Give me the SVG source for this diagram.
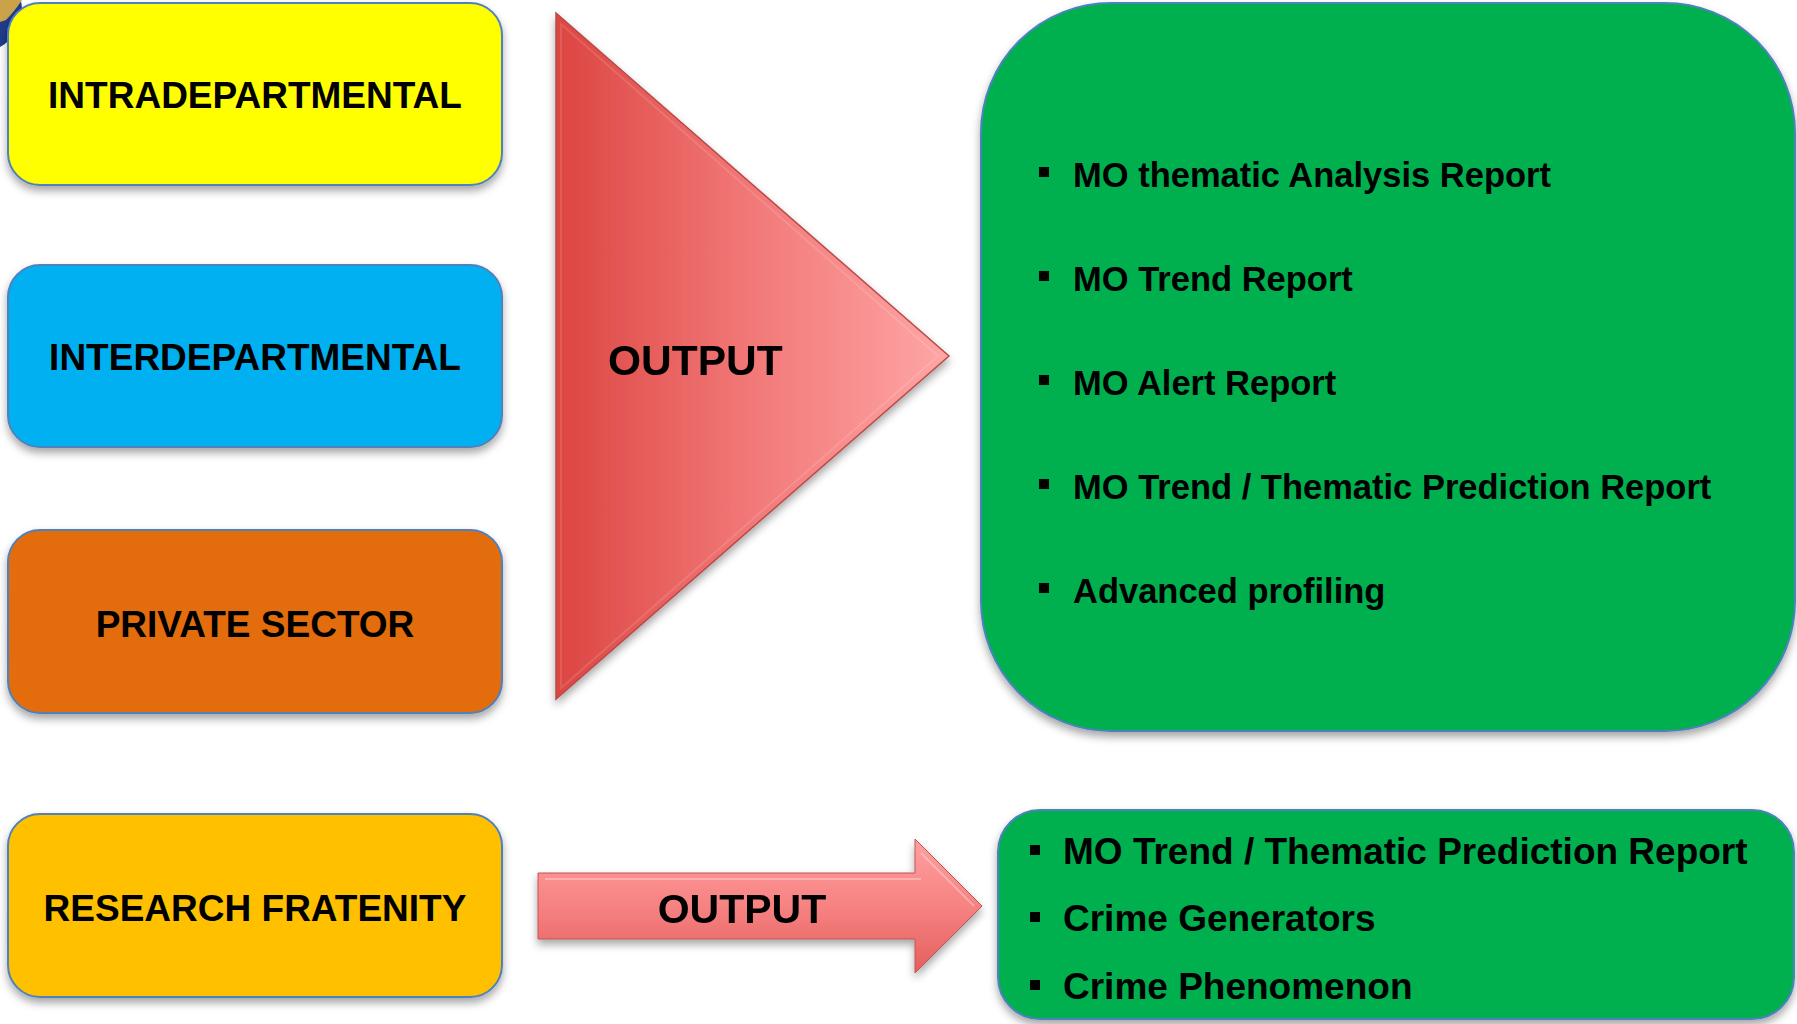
<svg xmlns="http://www.w3.org/2000/svg" width="1797" height="1024" viewBox="0 0 1797 1024">
  <style>
    .box { stroke: #4f81bd; stroke-width: 2; filter: url(#shadow); }
    .lbl { font-family: "Liberation Sans", Arial, sans-serif; font-weight: bold; fill: #000; }
    .ctr { text-anchor: middle; }
    .item { font-family: "Liberation Sans", Arial, sans-serif; font-weight: bold; font-size: 34.5px; fill: #000; }
    .item2 { font-family: "Liberation Sans", Arial, sans-serif; font-weight: bold; font-size: 37px; fill: #000; }
    .bullet { fill: #000; }
  </style>
  <defs>
    <filter id="shadow" x="-10%" y="-10%" width="120%" height="130%">
      <feDropShadow dx="0" dy="5" stdDeviation="4" flood-color="#000" flood-opacity="0.35"/>
    </filter>
    <linearGradient id="triGrad" x1="0" y1="0" x2="1" y2="0">
      <stop offset="0" stop-color="#dc4541"/>
      <stop offset="0.45" stop-color="#f07473"/>
      <stop offset="1" stop-color="#ffa6a6"/>
    </linearGradient>
    <linearGradient id="arrGrad" x1="0" y1="0" x2="0" y2="1">
      <stop offset="0" stop-color="#ffa0a0"/>
      <stop offset="0.5" stop-color="#f78282"/>
      <stop offset="1" stop-color="#e35f5d"/>
    </linearGradient>
  </defs>

  <rect width="1797" height="1024" fill="#ffffff"/>

  <!-- corner picture fragment -->
  <g id="corner-fragment">
    <circle cx="-20" cy="10" r="42" fill="#1f3c8c"/>
    <path d="M0,0 L22,0 Q14,12 6,20 L0,22 Z" fill="#c9a24a"/>
  </g>

  <g id="intradepartmental">
    <rect class="box" x="8" y="3" width="494" height="182" rx="32" ry="32" fill="#ffff00"/>
    <text class="lbl ctr" x="255" y="108" font-size="37">INTRADEPARTMENTAL</text>
  </g>

  <g id="interdepartmental">
    <rect class="box" x="8" y="265" width="494" height="182" rx="32" ry="32" fill="#00b0f0"/>
    <text class="lbl ctr" x="255" y="370" font-size="37">INTERDEPARTMENTAL</text>
  </g>

  <g id="private-sector">
    <rect class="box" x="8" y="530" width="494" height="183" rx="32" ry="32" fill="#e36c0a"/>
    <text class="lbl ctr" x="255" y="637" font-size="37">PRIVATE SECTOR</text>
  </g>

  <g id="research-fratenity">
    <rect class="box" x="8" y="814" width="494" height="183" rx="32" ry="32" fill="#ffc000"/>
    <text class="lbl ctr" x="255" y="921" font-size="37">RESEARCH FRATENITY</text>
  </g>

  <g id="connectors">
    <g id="output-triangle" filter="url(#shadow)">
      <polygon points="556,13 949,356 556,699" fill="url(#triGrad)" stroke="#b94a48" stroke-width="1.5"/>
      <polygon points="561,24 938,356 561,688" fill="none" stroke="#ffffff" stroke-opacity="0.12" stroke-width="2"/>
      <text class="lbl" x="608" y="375" font-size="42.5">OUTPUT</text>
    </g>
    <g id="output-arrow" filter="url(#shadow)">
      <path d="M538,873 L915,873 L915,839 L982,906 L915,973 L915,939 L538,939 Z" fill="url(#arrGrad)" stroke="#c25452" stroke-width="1"/>
      <path d="M545,879 L921,879 M921,853 L974,906" fill="none" stroke="#ffffff" stroke-opacity="0.3" stroke-width="2"/>
      <text class="lbl ctr" x="742" y="923" font-size="41">OUTPUT</text>
    </g>
  </g>

  <g id="outputs-main">
    <rect class="box" x="981" y="3" width="814" height="728" rx="130" ry="130" fill="#00b050"/>
    <rect class="bullet" x="1039" y="167" width="10" height="10"/>
    <text class="item" x="1073" y="187">MO thematic Analysis Report</text>
    <rect class="bullet" x="1039" y="271" width="10" height="10"/>
    <text class="item" x="1073" y="291">MO Trend Report</text>
    <rect class="bullet" x="1039" y="375" width="10" height="10"/>
    <text class="item" x="1073" y="395">MO Alert Report</text>
    <rect class="bullet" x="1039" y="479" width="10" height="10"/>
    <text class="item" x="1073" y="499">MO Trend / Thematic Prediction Report</text>
    <rect class="bullet" x="1039" y="583" width="10" height="10"/>
    <text class="item" x="1073" y="603">Advanced profiling</text>
  </g>

  <g id="outputs-research">
    <rect class="box" x="998" y="810" width="796" height="209" rx="42" ry="42" fill="#00b050"/>
    <rect class="bullet" x="1030" y="845" width="10" height="10"/>
    <text class="item2" x="1063" y="864">MO Trend / Thematic Prediction Report</text>
    <rect class="bullet" x="1030" y="912" width="10" height="10"/>
    <text class="item2" x="1063" y="931">Crime Generators</text>
    <rect class="bullet" x="1030" y="980" width="10" height="10"/>
    <text class="item2" x="1063" y="999">Crime Phenomenon</text>
  </g>
</svg>
